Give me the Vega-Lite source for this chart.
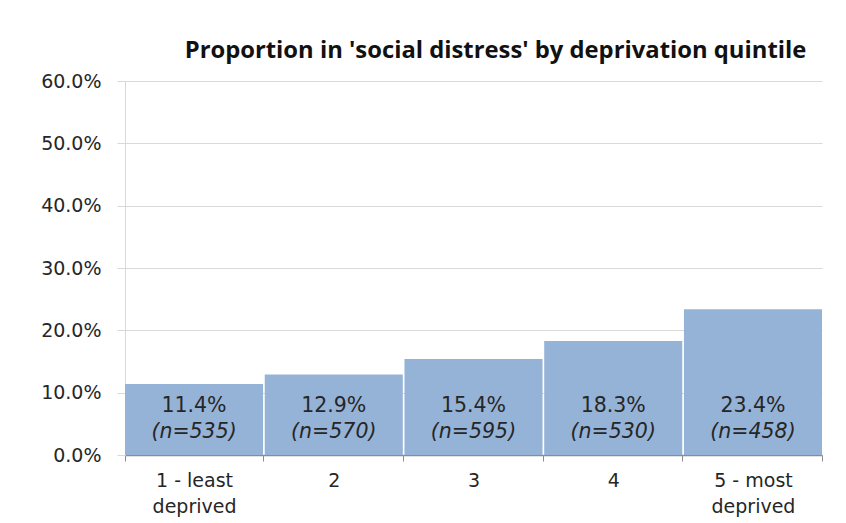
{
  "$schema": "https://vega.github.io/schema/vega-lite/v6.json",
  "width": 697,
  "height": 374,
  "autosize": {"type": "none"},
  "padding": {"left": 125, "top": 81, "right": 24, "bottom": 68},
  "background": "white",
  "title": {
    "text": "Proportion in 'social distress' by deprivation quintile",
    "font": "Open Sans",
    "fontSize": 23.8,
    "fontWeight": "bold",
    "color": "#111111",
    "anchor": "middle",
    "dx": 22,
    "offset": 9
  },
  "data": {
    "values": [
      {"quintile": "1 - least|deprived", "prop": 0.114, "n": "(n=535)"},
      {"quintile": "2", "prop": 0.129, "n": "(n=570)"},
      {"quintile": "3", "prop": 0.154, "n": "(n=595)"},
      {"quintile": "4", "prop": 0.183, "n": "(n=530)"},
      {"quintile": "5 - most|deprived", "prop": 0.234, "n": "(n=458)"}
    ]
  },
  "encoding": {
    "x": {
      "field": "quintile",
      "type": "nominal",
      "sort": null,
      "scale": {"paddingInner": 0.012, "paddingOuter": 0},
      "axis": {
        "title": null,
        "labelAngle": 0,
        "labelExpr": "split(datum.label, '|')",
        "labelFont": "DejaVu Sans",
        "labelFontSize": 19,
        "labelColor": "#262626",
        "labelLineHeight": 26,
        "labelPadding": 10,
        "tickBand": "extent",
        "tickSize": 6,
        "tickColor": "#8c8c8c",
        "domainColor": "#8c8c8c",
        "domainWidth": 1.5,
        "grid": false
      }
    }
  },
  "layer": [
    {
      "mark": {"type": "bar", "color": "#95B3D7"},
      "encoding": {
        "y": {
          "field": "prop",
          "type": "quantitative",
          "scale": {"domain": [0, 0.6], "nice": false},
          "axis": {
            "title": null,
            "values": [0, 0.1, 0.2, 0.3, 0.4, 0.5, 0.6],
            "format": ".1%",
            "labelFont": "DejaVu Sans",
            "labelFontSize": 19,
            "labelColor": "#262626",
            "labelPadding": 16,
            "tickSize": 8,
            "tickColor": "#d9d9d9",
            "gridColor": "#d9d9d9",
            "domainColor": "#d9d9d9"
          }
        }
      }
    },
    {
      "mark": {"type": "text", "font": "DejaVu Sans", "fontSize": 20.5, "color": "#262626", "baseline": "middle"},
      "encoding": {
        "y": {"datum": 0.078, "type": "quantitative"},
        "text": {"field": "prop", "type": "quantitative", "format": ".1%"}
      }
    },
    {
      "mark": {"type": "text", "font": "DejaVu Sans", "fontSize": 20.5, "fontStyle": "italic", "color": "#262626", "baseline": "middle"},
      "encoding": {
        "y": {"datum": 0.037, "type": "quantitative"},
        "text": {"field": "n", "type": "nominal"}
      }
    }
  ],
  "config": {"view": {"stroke": null}}
}
